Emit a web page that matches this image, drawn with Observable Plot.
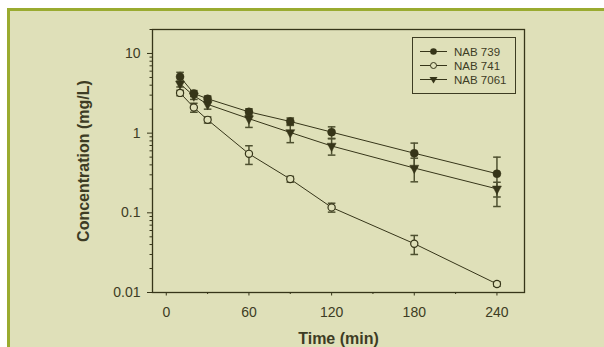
<!DOCTYPE html>
<html>
<head>
<meta charset="utf-8">
<script src="https://cdn.jsdelivr.net/npm/d3@7"></script>
<script src="https://cdn.jsdelivr.net/npm/@observablehq/plot@0.6"></script>
<style>
  body { margin: 0; background: #ffffff; }
  #wrap { position: relative; width: 604px; height: 347px; overflow: hidden; font-family: "Liberation Sans", Arial, sans-serif; }
  #panel { position: absolute; left: 7px; top: 8px; right: 0; bottom: 0; background: #dfe0b9; border-top: 3px solid #9aab30; border-left: 3px solid #9aab30; }
  #chart { position: absolute; left: 0; top: 0; }
  #legend { position: absolute; left: 412px; top: 37px; width: 102px; height: 55px; border: 1px solid #3d3c22; }
</style>
</head>
<body>
<div id="wrap">
  <div id="panel"></div>
  <div id="chart"></div>
  <div id="legend"></div>
</div>
<script>
// ---- data ----
const times = [10, 20, 30, 60, 90, 120, 180, 240];
const seriesNames = ["NAB 739", "NAB 741", "NAB 7061"];
const nab739 = [5.1, 3.15, 2.7, 1.85, 1.4, 1.03, 0.56, 0.31];
const nab739sd = [0.7, 0.27, 0.22, 0.17, 0.15, 0.17, 0.19, 0.19];
const nab741 = [3.2, 2.1, 1.47, 0.55, 0.265, 0.117, 0.041, 0.0128];
const nab741sd = [0.25, 0.27, 0.13, 0.145, 0.022, 0.015, 0.011, 0.0008];
const nab7061 = [4.15, 2.95, 2.3, 1.52, 1.02, 0.69, 0.365, 0.2];
const nab7061sd = [0.35, 0.3, 0.3, 0.34, 0.26, 0.16, 0.12, 0.042];
const xTicks = [0, 60, 120, 180, 240];
const xMinorTicks = [30, 90, 150, 210];
const yTicks = [0.01, 0.1, 1, 10];
const yTickLabels = ["0.01", "0.1", "1", "10"];
const yMinorTicks = [0.02,0.03,0.04,0.05,0.06,0.07,0.08,0.09,0.2,0.3,0.4,0.5,0.6,0.7,0.8,0.9,2,3,4,5,6,7,8,9,20];

// ---- build table ----
const valuesBySeries = [nab739, nab741, nab7061];
const sdBySeries = [nab739sd, nab741sd, nab7061sd];
const rows = [];
seriesNames.forEach((s, i) => {
  times.forEach((t, j) => {
    const v = valuesBySeries[i][j], sd = sdBySeries[i][j];
    rows.push({series: s, t, v, lo: v - sd, hi: v + sd});
  });
});

const ink = "#363519";
const ebColor = "#4e5030";
const bg = "#dfe0b9";

const capSymbol = { draw(ctx, size) { const r = Math.sqrt(size / Math.PI); ctx.moveTo(-r, 0); ctx.lineTo(r, 0); } };
const triDown = { draw(ctx, size) { const r = Math.sqrt(size / Math.PI); const w = 1.12 * r, k = 0.7 * r; ctx.moveTo(-w, -k); ctx.lineTo(w, -k); ctx.lineTo(0, 2 * k); ctx.closePath(); } };

const s739 = rows.filter(d => d.series === "NAB 739");
const s741 = rows.filter(d => d.series === "NAB 741");
const s7061 = rows.filter(d => d.series === "NAB 7061");

const plot = Plot.plot({
  width: 604,
  height: 347,
  marginLeft: 152,
  marginRight: 80,
  marginTop: 29,
  marginBottom: 55,
  style: { background: "transparent", color: "#3d3c24", fontFamily: "'Liberation Sans', Arial, sans-serif", fontSize: "14px" },
  x: { domain: [-10, 260], label: null },
  y: { type: "log", domain: [0.01, 20], label: null },
  marks: [
    Plot.axisX(xTicks, { tickSize: 3.5, tickPadding: 11, fontSize: 14, label: null, stroke: ink }),
    Plot.axisX(xMinorTicks, { tickSize: 2, tickFormat: () => "", label: null, stroke: ink }),
    Plot.axisY(yTicks, { tickSize: 5, tickPadding: 7, fontSize: 14, label: null, stroke: ink, tickFormat: d => yTickLabels[yTicks.indexOf(d)] }),
    Plot.axisY(yMinorTicks.filter(d => d <= 20), { tickSize: 2.5, tickFormat: () => "", label: null, stroke: ink }),
    Plot.frame({ stroke: ink, strokeWidth: 1.3 }),
    Plot.line(rows, { x: "t", y: "v", z: "series", stroke: ink, strokeWidth: 1 }),
    Plot.ruleX(rows, { x: "t", y1: "lo", y2: "hi", stroke: ebColor, strokeWidth: 1.5 }),
    Plot.dot(rows, { x: "t", y: "hi", symbol: capSymbol, r: 3.8, stroke: ebColor, strokeWidth: 1.5 }),
    Plot.dot(rows, { x: "t", y: "lo", symbol: capSymbol, r: 3.8, stroke: ebColor, strokeWidth: 1.5 }),
    Plot.dot(s741, { x: "t", y: "v", r: 3.6, fill: bg, stroke: ink, strokeWidth: 1.2 }),
    Plot.dot(s7061, { x: "t", y: "v", symbol: triDown, r: 4, fill: ink, stroke: ink, strokeWidth: 0.5 }),
    Plot.dot(s739, { x: "t", y: "v", r: 4, fill: ink, stroke: ink, strokeWidth: 0.5 }),
    Plot.text(["Concentration (mg/L)"], { text: d => d, frameAnchor: "left", dx: -69, rotate: -90, textAnchor: "middle", lineAnchor: "middle", fontSize: 16, fontWeight: "bold", fill: "#3d3c24" }),
    Plot.text(["Time (min)"], { text: d => d, frameAnchor: "bottom", dy: 46, textAnchor: "middle", lineAnchor: "middle", fontSize: 16, fontWeight: "bold", fill: "#3d3c24" })
  ]
});
document.getElementById("chart").appendChild(plot);

// ---- legend ----
const lg = d3.select("#legend").append("svg").attr("width", 102).attr("height", 55)
  .style("display", "block").style("font-family", "'Liberation Sans', Arial, sans-serif");
const legendItems = [
  { name: seriesNames[0], kind: "filled" },
  { name: seriesNames[1], kind: "open" },
  { name: seriesNames[2], kind: "tri" }
];
legendItems.forEach((it, i) => {
  const y = 13.5 + i * 14;
  const g = lg.append("g").attr("transform", `translate(0,${y})`);
  g.append("line").attr("x1", 7).attr("x2", 34).attr("y1", 0).attr("y2", 0).attr("stroke", ink).attr("stroke-width", 1);
  if (it.kind === "filled") g.append("circle").attr("cx", 20.5).attr("r", 3.3).attr("fill", ink);
  if (it.kind === "open") g.append("circle").attr("cx", 20.5).attr("r", 3).attr("fill", bg).attr("stroke", ink).attr("stroke-width", 1);
  if (it.kind === "tri") g.append("path").attr("d", "M16.5,-2.6L24.5,-2.6L20.5,4Z").attr("fill", ink);
  g.append("text").attr("x", 41).attr("y", 4).attr("font-size", 11.5).attr("fill", "#3d3c24").text(it.name);
});
</script>
</body>
</html>
